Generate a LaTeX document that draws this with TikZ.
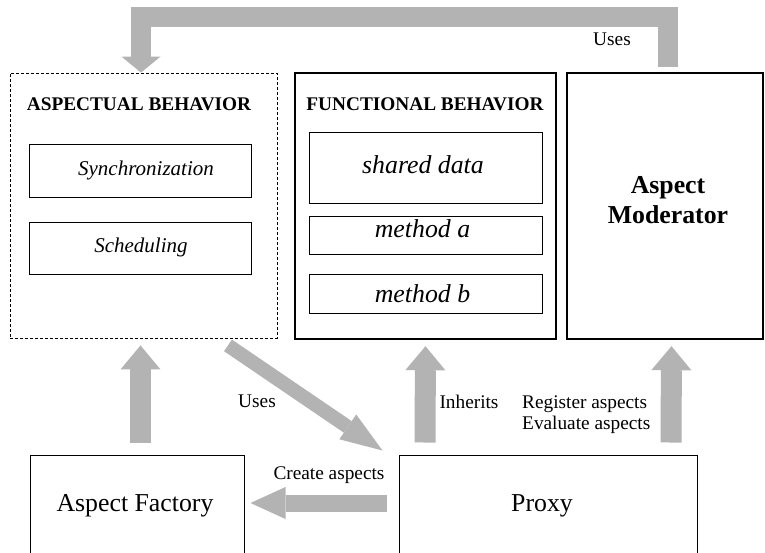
\documentclass[tikz,border=0pt]{standalone}
\usepackage{fontspec}
\setmainfont{Liberation Serif}
\usetikzlibrary{arrows.meta,calc}
\definecolor{arrowgray}{RGB}{179,179,179}
\begin{document}
\begin{tikzpicture}[x=1pt,y=-1pt,
  dbox/.style={draw, line width=0.8pt, dash pattern=on 3pt off 2pt, inner sep=0pt},
  tbox/.style={draw, line width=2.4pt, inner sep=0pt},
  ibox/.style={draw, line width=0.8pt, inner sep=0pt},
  bbox/.style={draw, line width=1pt, inner sep=0pt},
  ttl/.style={font=\fontsize{19.3}{22}\selectfont\bfseries, inner sep=0pt, anchor=base},
  itx/.style={font=\fontsize{21}{24}\selectfont\itshape, inner sep=0pt, anchor=base},
  btx/.style={font=\fontsize{25.8}{29}\selectfont\itshape, inner sep=0pt, anchor=base},
  bigtx/.style={font=\fontsize{25.8}{29}\selectfont, inner sep=0pt, anchor=base},
  amtx/.style={font=\fontsize{25.8}{29}\selectfont\bfseries, inner sep=0pt, anchor=base},
  lbl/.style={font=\fontsize{19.3}{21}\selectfont, inner sep=0pt, anchor=base},
  garrow/.style={draw=arrowgray, line width=21pt,
    -{Triangle[width=40pt,length=24pt,line width=0pt]}},
  harrow/.style={draw=arrowgray, line width=17pt,
    -{Triangle[width=32pt,length=35pt,line width=0pt]}},
  darrow/.style={draw=arrowgray, line width=14pt,
    -{Triangle[width=30pt,length=42pt,line width=0pt]}},
  toparrow/.style={draw=arrowgray, line width=20pt, line join=miter,
    -{Triangle[width=39pt,length=16pt,line width=0pt]}}
]
\useasboundingbox (0,0) rectangle (765,552);
\clip (0,0) rectangle (765,552);
\fill[white] (0,0) rectangle (765,552);

% aspectual behavior
\node[dbox, minimum width=267pt, minimum height=265pt] (ab) at (143.5,205.5) {};
\node[ttl] (abt) at (139,110) {ASPECTUAL BEHAVIOR};
\node[ibox, minimum width=222pt, minimum height=53pt] (sync) at (140,170.5) {};
\node[itx] (synct) at (146,175) {Synchronization};
\node[ibox, minimum width=222pt, minimum height=52pt] (sched) at (140,248) {};
\node[itx] (schedt) at (141,252) {Scheduling};

% functional behavior
\node[tbox, minimum width=261pt, minimum height=266pt] (fb) at (425.5,206) {};
\node[ttl] (fbt) at (425,110) {FUNCTIONAL BEHAVIOR};
\node[ibox, minimum width=233pt, minimum height=71pt] (sd) at (425.5,167.5) {};
\node[btx] (sdt) at (423,173) {shared data};
\node[ibox, minimum width=233pt, minimum height=38pt] (ma) at (425.5,235) {};
\node[btx] (mat) at (422.5,237) {method a};
\node[ibox, minimum width=233pt, minimum height=39pt] (mb) at (425.5,293.5) {};
\node[btx] (mbt) at (422.5,302) {method b};

% aspect moderator
\node[tbox, minimum width=196pt, minimum height=266pt] (am) at (665,206) {};
\node[amtx] (amt1) at (668,193) {Aspect};
\node[amtx] (amt2) at (668,223) {Moderator};

% bottom boxes
\node[bbox, minimum width=214pt, minimum height=130pt] (af) at (137,520) {};
\node[bigtx] (aft) at (135,511) {Aspect Factory};
\node[bbox, minimum width=298pt, minimum height=130pt] (proxy) at (548,520) {};
\node[bigtx] (proxyt) at (542,511) {Proxy};

% arrows
\draw[toparrow] ($(am.north)+(3,-5)$) -- ++(0,-50) -| ($(ab.north)+(-2.5,0)$);
\draw[garrow] ($(af.north)+(3.5,-12)$) -- ($(ab.south)+(-3,7)$);
\draw[darrow] ($(ab.south)+(84.5,7)$) -- ($(proxy.north west)+(-16,-4)$);
\draw[garrow] ($(proxy.north west)+(26.5,-12)$) -- ($(fb.south)+(0,6)$);
\draw[garrow] ($(proxy.north west)+(272.5,-12)$) -- ($(am.south)+(6.5,6)$);
\draw[harrow] ($(proxy.north west)+(-12,48.5)$) -- ($(af.north east)+(6,48.5)$);

% labels
\node[lbl] (l1) at (612,45) {Uses};
\node[lbl] (l2) at (257,407) {Uses};
\node[lbl] (l3) at (469,408) {Inherits};
\node[lbl, anchor=base west] (l4) at (522,408) {Register aspects};
\node[lbl, anchor=base west] (l4b) at (522,429) {Evaluate aspects};
\node[lbl] (l5) at (329,479) {Create aspects};
\end{tikzpicture}
\end{document}
